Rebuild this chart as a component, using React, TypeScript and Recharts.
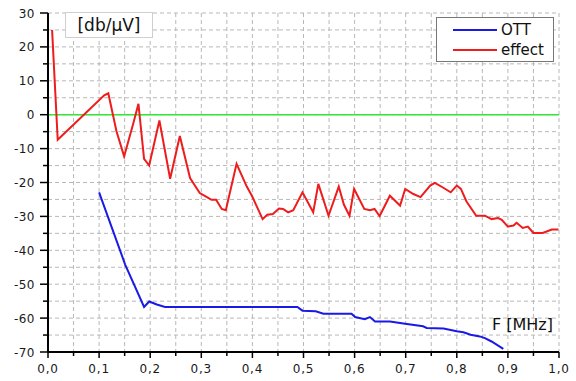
import { LineChart, Line, XAxis, YAxis, CartesianGrid, ReferenceLine, Legend } from "recharts";

// measured curves (F in MHz, level in db/µV)
const effectF = [
  0.008, 0.019, 0.11, 0.118, 0.134, 0.149, 0.167, 0.177, 0.188, 0.198, 0.218, 0.239, 0.258, 0.278, 0.297, 0.311,
  0.32, 0.329, 0.34, 0.348, 0.369, 0.389, 0.399, 0.42, 0.429, 0.44, 0.452, 0.46, 0.47, 0.48, 0.498, 0.519, 0.529,
  0.549, 0.569, 0.579, 0.59, 0.599, 0.619, 0.63, 0.639, 0.649, 0.669, 0.689, 0.699, 0.715, 0.729, 0.748, 0.757,
  0.772, 0.788, 0.8, 0.808, 0.819, 0.838, 0.855, 0.868, 0.881, 0.888, 0.9, 0.911, 0.917, 0.929, 0.939, 0.95, 0.968,
  0.986, 0.999,
];
const effectLevel = [
  25, -7.4, 5.7, 6.3, -4.9, -12.3, -2.5, 3.2, -13, -15, -1.7, -18.9, -6.3, -18.7, -23.1, -24.3, -25.1, -25.1, -27.8,
  -28.2, -14.5, -21.2, -23.9, -30.8, -29.5, -29.3, -27.7, -27.8, -28.8, -28.2, -22.9, -28.8, -20.4, -29.8, -21.2,
  -26.5, -29.8, -21.9, -27.8, -28.2, -27.8, -29.9, -23.9, -26.8, -21.9, -23.4, -24.3, -20.9, -20.1, -21.4, -22.9,
  -20.9, -21.9, -25.6, -29.8, -29.8, -30.8, -30.5, -31, -33, -32.7, -31.9, -33.4, -33, -34.9, -34.9, -33.9, -33.9,
];
const ottF = [
  0.1, 0.151, 0.188, 0.198, 0.213, 0.229, 0.488, 0.498, 0.524, 0.539, 0.594, 0.601, 0.62, 0.63, 0.64, 0.669, 0.699,
  0.734, 0.741, 0.774, 0.8, 0.813, 0.827, 0.845, 0.855, 0.868, 0.891,
];
const ottLevel = [
  -22.9, -44.2, -56.7, -55.1, -56, -56.7, -56.7, -57.8, -58, -58.7, -58.7, -59.7, -60.3, -59.7, -61, -61, -61.7,
  -62.4, -62.9, -63.1, -63.9, -64.2, -64.9, -65.4, -65.9, -66.9, -69.1,
];
const xTicks = [
  0, 0.05, 0.1, 0.15, 0.2, 0.25, 0.3, 0.35, 0.4, 0.45, 0.5, 0.55, 0.6, 0.65, 0.7, 0.75, 0.8, 0.85, 0.9, 0.95, 1,
];
const yTicks = [-70, -65, -60, -55, -50, -45, -40, -35, -30, -25, -20, -15, -10, -5, 0, 5, 10, 15, 20, 25, 30];

const effectData = effectF.map((f, i) => ({ f, v: effectLevel[i] }));
const ottData = ottF.map((f, i) => ({ f, v: ottLevel[i] }));

const font = "'DejaVu Sans', sans-serif";
const isMajor = (v: number, step: number) => Math.abs(Math.round(v / step) * step - v) < 1e-6;

const XTick = (props: any) => {
  const { x, y, payload } = props;
  const v = payload.value;
  const major = isMajor(v, 0.1);
  return (
    <g>
      <line x1={x} x2={x} y1={y} y2={y + (major ? 6 : 4)} stroke="#000" strokeWidth={1.5} />
      {major && (
        <text x={x} y={y + 21} textAnchor="middle" fontSize={12} letterSpacing={0.8} fontFamily={font} fill="#1a1a1a">
          {v.toFixed(1).replace(".", ",")}
        </text>
      )}
    </g>
  );
};

const YTick = (props: any) => {
  const { x, y, payload } = props;
  const v = payload.value;
  const major = isMajor(v, 10);
  return (
    <g>
      <line x1={x} x2={x - (major ? 8 : 5)} y1={y} y2={y} stroke="#000" strokeWidth={1.5} />
      {major && (
        <text x={x - 13} y={y + 4.5} textAnchor="end" fontSize={12} letterSpacing={0.5} fontFamily={font} fill="#1a1a1a">
          {v}
        </text>
      )}
    </g>
  );
};

const LegendBox = () => (
  <div
    style={{
      width: 116,
      height: 43,
      border: "1px solid #777",
      background: "#fff",
      fontFamily: font,
      fontSize: 15,
      color: "#111",
      position: "relative",
    }}
  >
    {[
      { name: "OTT", color: "#1a1ae6", top: 3 },
      { name: "effect", color: "#ee1c1c", top: 23 },
    ].map((e) => (
      <div key={e.name} style={{ position: "absolute", left: 16, top: e.top, display: "flex", alignItems: "center" }}>
        <span style={{ display: "inline-block", width: 44, height: 2, background: e.color, marginRight: 4 }} />
        <span style={{ lineHeight: "18px" }}>{e.name}</span>
      </div>
    ))}
  </div>
);

export default function App() {
  return (
    <div style={{ position: "absolute", left: 0, top: 0, width: 576, height: 381, background: "#fff" }}>
      <LineChart width={576} height={381} data={effectData} margin={{ top: 13, right: 17, bottom: 0, left: 0 }}>
        <CartesianGrid stroke="#b8b8b8" strokeDasharray="4 3" />
        <XAxis
          dataKey="f"
          type="number"
          domain={[0, 1]}
          ticks={xTicks}
          interval={0}
          height={29}
          tickSize={0}
          tickMargin={0}
          tickLine={false}
          axisLine={{ stroke: "#000", strokeWidth: 2 }}
          tick={<XTick />}
        />
        <YAxis
          type="number"
          domain={[-70, 30]}
          ticks={yTicks}
          interval={0}
          width={48}
          tickSize={0}
          tickMargin={0}
          tickLine={false}
          axisLine={{ stroke: "#000", strokeWidth: 2 }}
          tick={<YTick />}
        />
        <ReferenceLine y={0} stroke="#33e633" strokeWidth={1.5} />
        <Line
          data={ottData}
          dataKey="v"
          name="OTT"
          stroke="#1a1ae6"
          strokeWidth={2}
          dot={false}
          isAnimationActive={false}
        />
        <Line
          data={effectData}
          dataKey="v"
          name="effect"
          stroke="#ee1c1c"
          strokeWidth={2}
          dot={false}
          isAnimationActive={false}
        />
        <Legend
          layout="horizontal"
          verticalAlign="middle"
          content={<LegendBox />}
          wrapperStyle={{ left: 436, top: 17, width: "auto", height: "auto" }}
        />
      </LineChart>
      <div
        style={{
          position: "absolute",
          left: 65,
          top: 12,
          width: 86,
          height: 24,
          border: "1px solid #cfcfcf",
          background: "#fff",
          fontFamily: font,
          fontSize: 17,
          lineHeight: "24px",
          textAlign: "center",
          color: "#111",
        }}
      >
        [db/µV]
      </div>
      <div
        style={{
          position: "absolute",
          left: 492,
          top: 315,
          fontFamily: font,
          fontSize: 16,
          lineHeight: "20px",
          color: "#111",
        }}
      >
        F [MHz]
      </div>
    </div>
  );
}
